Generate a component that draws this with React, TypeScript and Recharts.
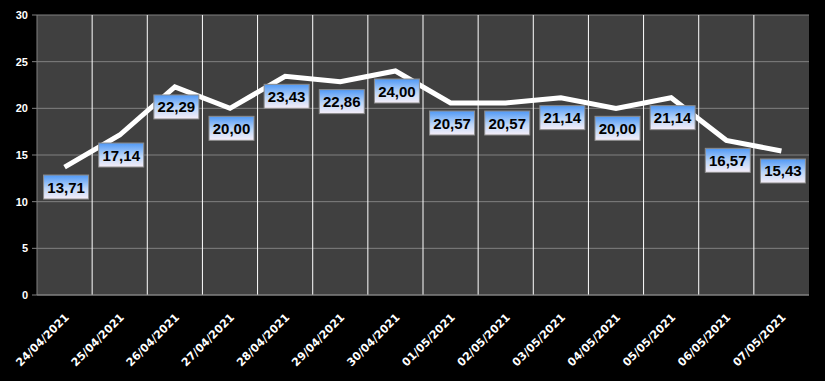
import React from "react";
import { LineChart, Line, XAxis, YAxis, CartesianGrid, LabelList } from "recharts";

const dates = ["24/04/2021","25/04/2021","26/04/2021","27/04/2021","28/04/2021","29/04/2021","30/04/2021","01/05/2021","02/05/2021","03/05/2021","04/05/2021","05/05/2021","06/05/2021","07/05/2021"];
const values = [13.71,17.14,22.29,20.0,23.43,22.86,24.0,20.57,20.57,21.14,20.0,21.14,16.57,15.43];
const yTicks = [0,5,10,15,20,25,30];
const boundaryTicks = [0,1,2,3,4,5,6,7,8,9,10,11,12,13,14];

const data = dates.map((d, i) => ({ date: d, value: values[i] }));

const fmt = (v: number) => v.toFixed(2).replace(".", ",");

const XTick = (props: any) => {
  const { x, y, payload } = props;
  const ax = x + 5;
  const ay = y + 15;
  return (
    <text x={ax} y={ay} transform={`rotate(-45, ${ax}, ${ay})`} textAnchor="end" fill="#fff"
      fontFamily="DejaVu Sans" fontWeight="bold" fontSize={11}>{payload.value}</text>
  );
};

const ValueLabel = (props: any) => {
  const { x, y, value } = props;
  const w = 45, h = 24;
  const bx = x + 1.5 - w / 2;
  const by = y + 8;
  return (
    <g>
      <rect x={bx} y={by} width={w} height={h} fill="url(#lblGrad)" stroke="#8c8c8c" strokeWidth={1} />
      <text x={bx + w / 2} y={by + h / 2 + 5.5} textAnchor="middle" fill="#000"
        fontFamily="Liberation Sans" fontWeight="bold" fontSize={15}>{fmt(value)}</text>
    </g>
  );
};

export default function App() {
  return (
    <div style={{ position: "fixed", left: 0, top: 0, width: 825, height: 381, background: "#000" }}>
      <LineChart width={825} height={381} data={data} margin={{ top: 15, right: 16, left: 0, bottom: 0 }}>
        <defs>
          <linearGradient id="lblGrad" x1="0" y1="0" x2="0" y2="1">
            <stop offset="0%" stopColor="#4f98f5" />
            <stop offset="55%" stopColor="#bcd6f8" />
            <stop offset="100%" stopColor="#f6eef8" />
          </linearGradient>
        </defs>
        <XAxis xAxisId="num" type="number" domain={[0, 14]} ticks={boundaryTicks} height={0}
          tick={() => <g />} tickSize={5} tickLine={{ stroke: "#808080" }} axisLine={false} allowDataOverflow />
        <XAxis xAxisId="cat" dataKey="date" scale="band" height={86} interval={0} tick={<XTick />}
          tickLine={false} axisLine={{ stroke: "#808080" }} />
        <YAxis width={37} domain={[0, 30]} ticks={yTicks} tickSize={5} tickMargin={4}
          tickLine={{ stroke: "#808080" }} axisLine={{ stroke: "#808080" }}
          tick={{ fill: "#fff", fontFamily: "Liberation Sans", fontWeight: "bold", fontSize: 11 }} />
        <CartesianGrid xAxisId="cat" vertical={false} stroke="#808080" fill="#404040" />
        <CartesianGrid xAxisId="num" horizontal={false} stroke="#ffffff"
          verticalCoordinatesGenerator={({ offset }: any) =>
            boundaryTicks.slice(1, 14).map((i) => offset.left + (i * offset.width) / 14)} />
        <Line xAxisId="cat" dataKey="value" stroke="#ffffff" strokeWidth={5} dot={false}
          isAnimationActive={false} strokeLinejoin="miter">
          <LabelList dataKey="value" content={<ValueLabel />} />
        </Line>
      </LineChart>
    </div>
  );
}
